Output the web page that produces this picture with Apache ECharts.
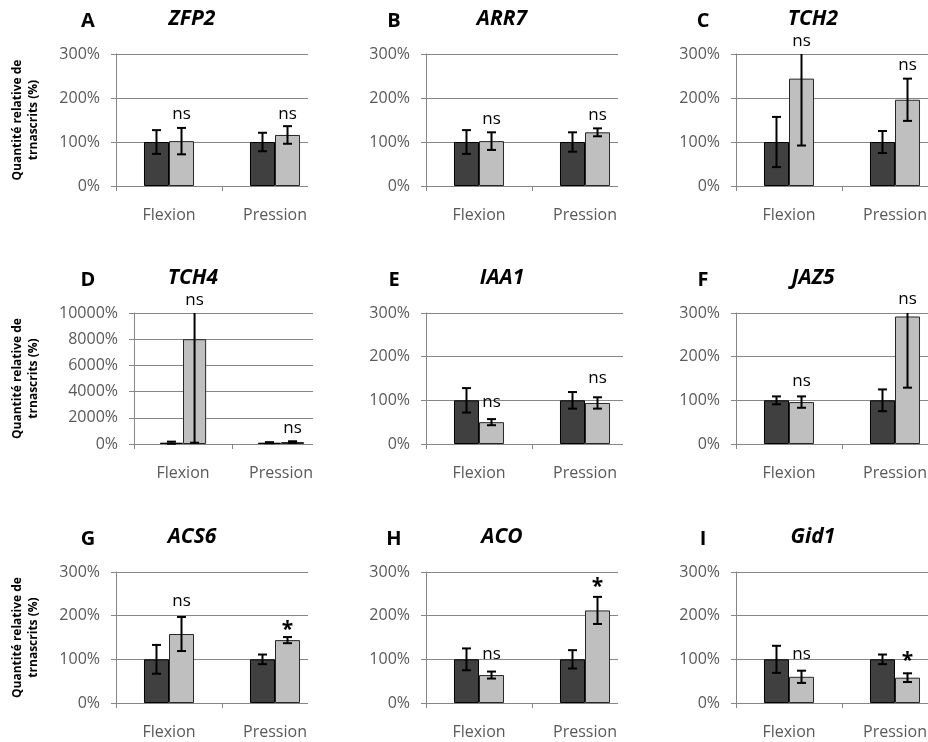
<!DOCTYPE html>
<html><head><meta charset="utf-8">
<script src="https://cdn.jsdelivr.net/npm/echarts@6/dist/echarts.min.js"></script>
<style>html,body{margin:0;padding:0;background:#fff}#c{width:928px;height:742px}</style>
</head><body><div id="c"></div>
<script>
// ---- data ----
const categories = ['Flexion', 'Pression'];
const letters = ['A','B','C','D','E','F','G','H','I'];
const genes = ['ZFP2','ARR7','TCH2','TCH4','IAA1','JAZ5','ACS6','ACO','Gid1'];
const darkValues  = [[100,100],[100,100],[100,100],[100,100],[100,100],[100,100],[100,100],[100,100],[100,100]];
const darkErrors  = [[27,21],[27,22],[57,25],[80,40],[28,19],[9,25],[33,11],[25,21],[31,11]];
const lightValues = [[102,116],[102,122],[244,196],[8000,150],[50,94],[96,292],[158,144],[64,212],[60,58]];
const lightErrors = [[30,20],[20,9],[152,48],[7900,60],[7,13],[13,163],[39,7],[8,31],[14,10]];
const signifText  = [['ns','ns'],['ns','ns'],['ns','ns'],['ns','ns'],['ns','ns'],['ns','ns'],['ns','*'],['ns','*'],['ns','*']];
const signifLevel = [[164,164],[151,162],[329,274],[11000,1215],[95,150],[145,331],[233,167],[113,266],[113,96]];
const yMax  = [300,300,300,10000,300,300,300,300,300];
const yStep = [100,100,100,2000,100,100,100,100,100];
const yName = 'Quantité relative de\ntrnascrits (%)';

// ---- layout ----
const FONT = '"Open Sans", "Noto Sans", sans-serif';
const colLeft = [116, 426, 736];
const rowTop = [54, 313, 572];
const plotH = [132, 131, 131];
const coverX = [308, 618, null, 313, 623, null, 308, 618, null];
const titleY = [20, 279, 538];
const letterX = [88, 394, 703];
const geneX = [192, 502, 813];
const BAR_FRAC = 0.236;
const GRID = '#868686';

const grids = [], xAxes = [], yAxes = [], series = [], graphics = [];
for (let i = 0; i < 9; i++) {
  const r = Math.floor(i / 3), c = i % 3;
  const left = i === 3 ? 134 : colLeft[c];
  const width = i === 3 ? 196 : 212;
  grids.push({left: left, top: rowTop[r], width: width, height: plotH[r], outerBoundsMode: 'none', containLabel: false});
  xAxes.push({
    gridIndex: i, type: 'category', data: categories,
    axisLine: {show: true, lineStyle: {color: GRID, width: 1}},
    axisTick: {show: true, length: 5, lineStyle: {color: GRID}},
    axisLabel: {margin: 21, color: '#595959', fontSize: 16, fontFamily: FONT},
    splitLine: {show: false}
  });
  yAxes.push({
    gridIndex: i, type: 'value', min: 0, max: yMax[i], interval: yStep[i],
    axisLine: {show: true, lineStyle: {color: GRID, width: 1}},
    axisTick: {show: true, length: 5, lineStyle: {color: GRID}},
    splitLine: {show: true, lineStyle: {color: GRID, width: 1}},
    axisLabel: {formatter: function (v) { return v + '%'; }, margin: 16, color: '#595959', fontSize: 16, fontFamily: FONT},
    name: c === 0 ? yName : '',
    nameLocation: 'middle', nameRotate: 90, nameGap: i === 3 ? 92 : 74,
    nameTextStyle: {fontWeight: 'bold', fontSize: 12, color: '#000', fontFamily: FONT, lineHeight: 16}
  });
  series.push({
    type: 'bar', xAxisIndex: i, yAxisIndex: i, data: darkValues[i],
    barWidth: (BAR_FRAC * 100) + '%', barGap: '0%',
    itemStyle: {color: '#404040', borderColor: '#000', borderWidth: 1}, silent: true
  });
  series.push({
    type: 'bar', xAxisIndex: i, yAxisIndex: i, data: lightValues[i],
    barWidth: (BAR_FRAC * 100) + '%', barGap: '0%',
    itemStyle: {color: '#bfbfbf', borderColor: '#262626', borderWidth: 1}, silent: true
  });
  const errData = [];
  for (let k = 0; k < 2; k++) {
    errData.push([k, darkValues[i][k], darkErrors[i][k], -1]);
    errData.push([k, lightValues[i][k], lightErrors[i][k], 1]);
  }
  series.push({
    type: 'custom', xAxisIndex: i, yAxisIndex: i, data: errData, silent: true, z: 5,
    encode: {x: 0, y: 1},
    renderItem: function (params, api) {
      const ci = api.value(0), v = api.value(1), e = api.value(2), side = api.value(3);
      const bw = api.size([1, 0])[0] * BAR_FRAC;
      const cs = params.coordSys;
      const x = api.coord([ci, v])[0] + side * bw / 2;
      let top = api.coord([ci, v + e])[1];
      let bot = api.coord([ci, Math.max(v - e, 0)])[1];
      const hw = 4.5;
      const st = {stroke: '#000', lineWidth: 2};
      const children = [];
      let capTop = true;
      if (top < cs.y) { top = cs.y; capTop = false; }
      children.push({type: 'line', shape: {x1: x, y1: top, x2: x, y2: bot}, style: st});
      if (capTop) children.push({type: 'line', shape: {x1: x - hw, y1: top, x2: x + hw, y2: top}, style: st});
      children.push({type: 'line', shape: {x1: x - hw, y1: bot, x2: x + hw, y2: bot}, style: st});
      return {type: 'group', children: children};
    }
  });
  const idx = i;
  series.push({
    type: 'custom', xAxisIndex: i, yAxisIndex: i, silent: true, z: 6, clip: false,
    data: [[0, signifLevel[i][0]], [1, signifLevel[i][1]]],
    encode: {x: 0, y: 1},
    renderItem: function (params, api) {
      const p = api.coord([api.value(0), api.value(1)]);
      const bw = api.size([1, 0])[0] * BAR_FRAC;
      const txt = signifText[idx][params.dataIndex];
      const star = txt === '*';
      return {type: 'text', x: p[0] + bw / 2, y: p[1],
        style: {text: txt, align: 'center', verticalAlign: 'middle',
          font: (star ? 'bold 21px ' : '17px ') + FONT, fill: '#000'}};
    }
  });
  if (coverX[i] !== null) {
    graphics.push({type: 'rect', z: 100, silent: true,
      shape: {x: coverX[i], y: rowTop[r] - 4, width: 24, height: plotH[r] + 14},
      style: {fill: '#fff'}});
  }
  graphics.push({type: 'text', z: 101, x: letterX[c], y: titleY[r] + 1,
    style: {text: letters[i], align: 'center', verticalAlign: 'middle',
      font: 'bold 20px ' + FONT, fill: '#000'}});
  graphics.push({type: 'text', z: 101, x: i === 3 ? 193 : geneX[c], y: titleY[r] - 1,
    style: {text: genes[i], align: 'center', verticalAlign: 'middle',
      font: 'italic bold 21px ' + FONT, fill: '#000'}});
}

const chart = echarts.init(document.getElementById('c'));
chart.setOption({
  animation: false,
  backgroundColor: '#fff',
  grid: grids, xAxis: xAxes, yAxis: yAxes, series: series,
  graphic: graphics
});
</script></body></html>
